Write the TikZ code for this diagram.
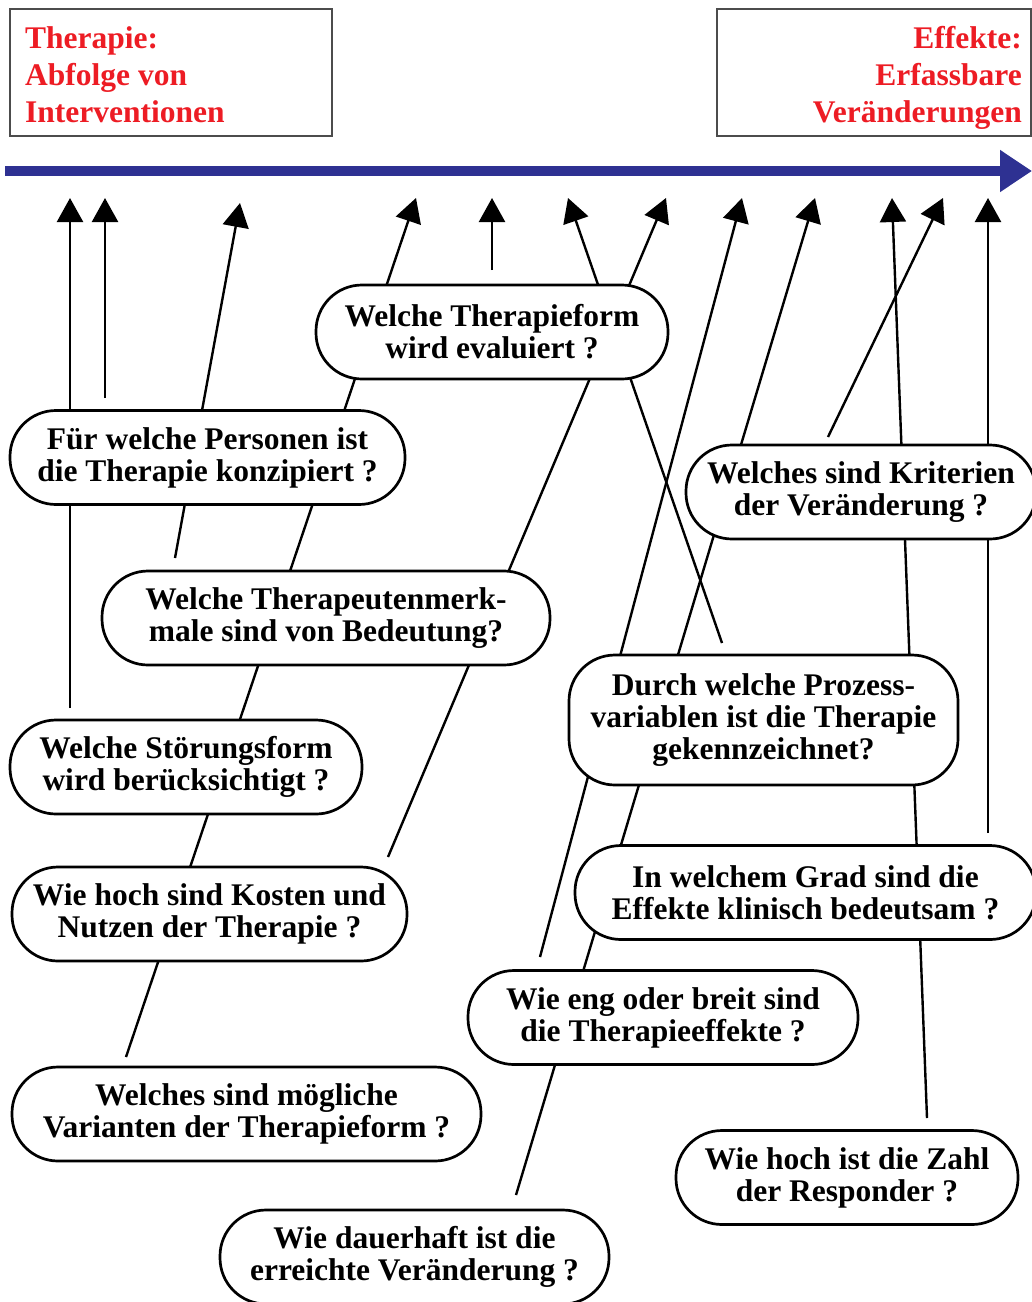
\documentclass[tikz,border=0pt]{standalone}
\usepackage{fontspec}
\setmainfont{Liberation Serif}
\usetikzlibrary{arrows.meta}
\definecolor{tlblue}{HTML}{2E3192}
\definecolor{tred}{HTML}{ED1C24}
\newcommand\qfont{\fontsize{31.5}{32}\selectfont\bfseries}
\begin{document}
\begin{tikzpicture}[x=1pt,y=-1pt,
  qbox/.style={draw, line width=2.7pt, fill=white, rounded corners=46pt, minimum height=94pt, align=center, inner sep=0pt, font=\qfont},
  conn/.style={line width=2.4pt, -{Triangle[length=24pt,width=26pt]}},
  hdr/.style={draw=black!70, line width=1.4pt},
  rtxt/.style={text=tred, font=\qfont, inner sep=0pt}]
\useasboundingbox (0,0) rectangle (1032,1302);
\fill[white] (0,0) rectangle (1032,1302);

% header boxes
\draw[hdr] (10,9) rectangle (332,136);
\draw[hdr] (717,9) rectangle (1031,136);
\node[rtxt, anchor=base west] (r1) at (25,48) {Therapie:};
\node[rtxt, anchor=base west] (r2) at (25,85) {Abfolge von};
\node[rtxt, anchor=base west] (r3) at (25,122) {Interventionen};
\node[rtxt, anchor=base east] (e1) at (1022,48) {Effekte:};
\node[rtxt, anchor=base east] (e2) at (1022,85) {Erfassbare};
\node[rtxt, anchor=base east] (e3) at (1022,122) {Veränderungen};

% timeline
\coordinate (tl0) at (5,171);
\coordinate (tl1) at (1032,171);
\draw[tlblue, line width=10pt, -{Triangle[length=32pt,width=40pt]}] (tl0) -- (tl1);

% arrow tips
\coordinate (t1) at (70,198);
\coordinate (t2) at (105,198);
\coordinate (t3) at (240,203);
\coordinate (t4) at (416,198);
\coordinate (t5) at (492,198);
\coordinate (t6) at (568,198);
\coordinate (t7) at (666,198);
\coordinate (t8) at (742,198);
\coordinate (t9) at (815,198);
\coordinate (t10) at (892,198);
\coordinate (t11) at (943,198);
\coordinate (t12) at (988,198);

% starts (just above source boxes)
\coordinate (sD) at (70,708);
\coordinate (sB) at (105,398);
\coordinate (sC) at (175,558);
\coordinate (sF) at (126,1057);
\coordinate (sA) at (492,270);
\coordinate (sI) at (722,643);
\coordinate (sE) at (388,857);
\coordinate (sK) at (540,957);
\coordinate (sG) at (516,1195);
\coordinate (sL) at (927,1118);
\coordinate (sH) at (828,437);
\coordinate (sJ) at (988,833);

\draw[conn] (sD) -- (t1);
\draw[conn] (sB) -- (t2);
\draw[conn] (sC) -- (t3);
\draw[conn] (sF) -- (t4);
\draw[conn] (sA) -- (t5);
\draw[conn] (sI) -- (t6);
\draw[conn] (sE) -- (t7);
\draw[conn] (sK) -- (t8);
\draw[conn] (sG) -- (t9);
\draw[conn] (sL) -- (t10);
\draw[conn] (sH) -- (t11);
\draw[conn] (sJ) -- (t12);

% question boxes
\node[qbox, minimum width=352pt] (A) at (492,332) {Welche Therapieform\\wird evaluiert ?};
\node[qbox, minimum width=395pt] (B) at (207.5,457.5) {Für welche Personen ist\\die Therapie konzipiert ?};
\node[qbox, minimum width=448pt] (C) at (326,618) {Welche Therapeutenmerk-\\male sind von Bedeutung?};
\node[qbox, minimum width=352pt] (D) at (186,767) {Welche Störungsform\\wird berücksichtigt ?};
\node[qbox, minimum width=395pt] (E) at (209.5,914) {Wie hoch sind Kosten und\\Nutzen der Therapie ?};
\node[qbox, minimum width=469pt] (F) at (246.5,1114) {Welches sind mögliche\\Varianten der Therapieform ?};
\node[qbox, minimum width=389pt] (G) at (414.5,1257) {Wie dauerhaft ist die\\erreichte Veränderung ?};
\node[qbox, minimum width=350pt] (H) at (861,492) {Welches sind Kriterien\\der Veränderung ?};
\node[qbox, minimum width=389pt, minimum height=130pt] (I) at (763.5,720) {Durch welche Prozess-\\variablen ist die Therapie\\gekennzeichnet?};
\node[qbox, minimum width=461pt] (J) at (805.5,892.5) {In welchem Grad sind die\\Effekte klinisch bedeutsam ?};
\node[qbox, minimum width=390pt] (K) at (663,1017.5) {Wie eng oder breit sind\\die Therapieeffekte ?};
\node[qbox, minimum width=342pt] (L) at (847,1177.5) {Wie hoch ist die Zahl\\der Responder ?};
\end{tikzpicture}
\end{document}
